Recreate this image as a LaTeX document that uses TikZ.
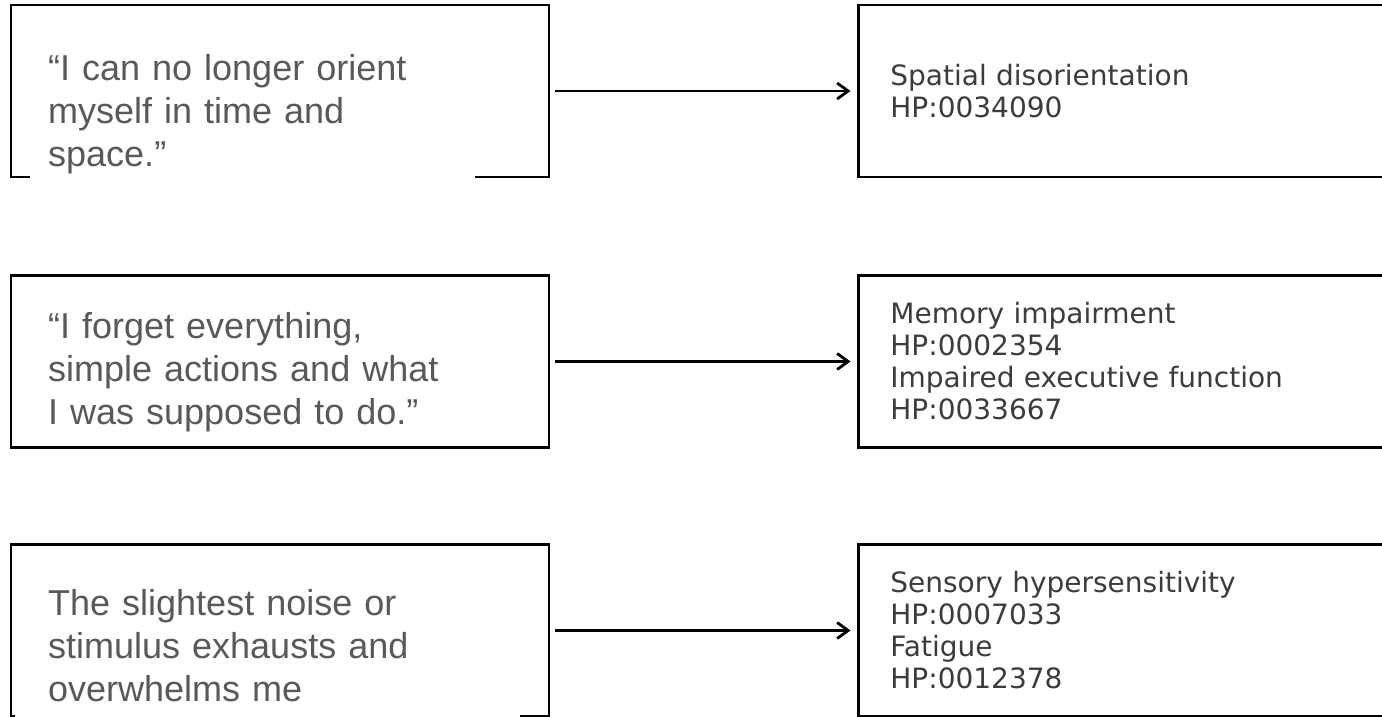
\documentclass[tikz,border=0pt]{standalone}
\usepackage{fontspec}
\newfontfamily\arialfont{Liberation Sans}
\newfontfamily\dejavufont{DejaVu Sans}
\usetikzlibrary{arrows.meta}
\definecolor{quotegray}{HTML}{595959}
\definecolor{hpogray}{HTML}{3C3C3C}
\begin{document}
\begin{tikzpicture}[x=1pt,y=-1pt,
    box/.style={draw=black,line width=2.8pt,minimum width=538pt,minimum height=172pt,inner sep=0pt},
    quote/.style={anchor=north west,text=quotegray,font=\arialfont\fontsize{36}{43}\selectfont,align=left,inner ysep=8pt},
    hpo/.style={draw=black,line width=2.8pt,anchor=west,minimum width=560pt,minimum height=172pt,text width=496pt,inner xsep=32pt,align=left,text=hpogray,font=\dejavufont\fontsize{28}{32}\selectfont},
    arr/.style={line width=2.8pt,-{Straight Barb[length=11pt,width=16pt]},shorten <=4.5pt,shorten >=6.5pt}]
    \useasboundingbox(0,0)rectangle(1382,717);
    % patient quotes
    \node(q1)at(280,91)[box]{};
    \node(q2)at(280,361.5)[box]{};
    \node(q3)at(280,630.5)[box]{};
    \node(t1)at(30,41.9)[quote,fill=white,inner xsep=18pt,text width=409pt]{\strut“I can no longer orient\\\strut myself in time and\\\strut space.”};
    \node(t2)at(30,299.9)[quote,inner xsep=18pt,text width=409pt]{\strut“I forget everything,\\\strut simple actions and what\\\strut I was supposed to do.”};
    \node(t3)at(15,576.9)[quote,fill=white,inner xsep=33pt,text width=439pt]{\strut The slightest noise or\\\strut stimulus exhausts and\\\strut overwhelms me};
    % HPO terms
    \node(h1)at(857,91)[hpo]{Spatial disorientation\\HP:0034090};
    \node(h2)at(857,361.5)[hpo]{Memory impairment\\HP:0002354\\Impaired executive function\\HP:0033667};
    \node(h3)at(857,630.5)[hpo]{Sensory hypersensitivity\\HP:0007033\\Fatigue\\HP:0012378};
    \draw[arr](q1)--(h1);
    \draw[arr](q2)--(h2);
    \draw[arr](q3)--(h3);
\end{tikzpicture}
\end{document}
